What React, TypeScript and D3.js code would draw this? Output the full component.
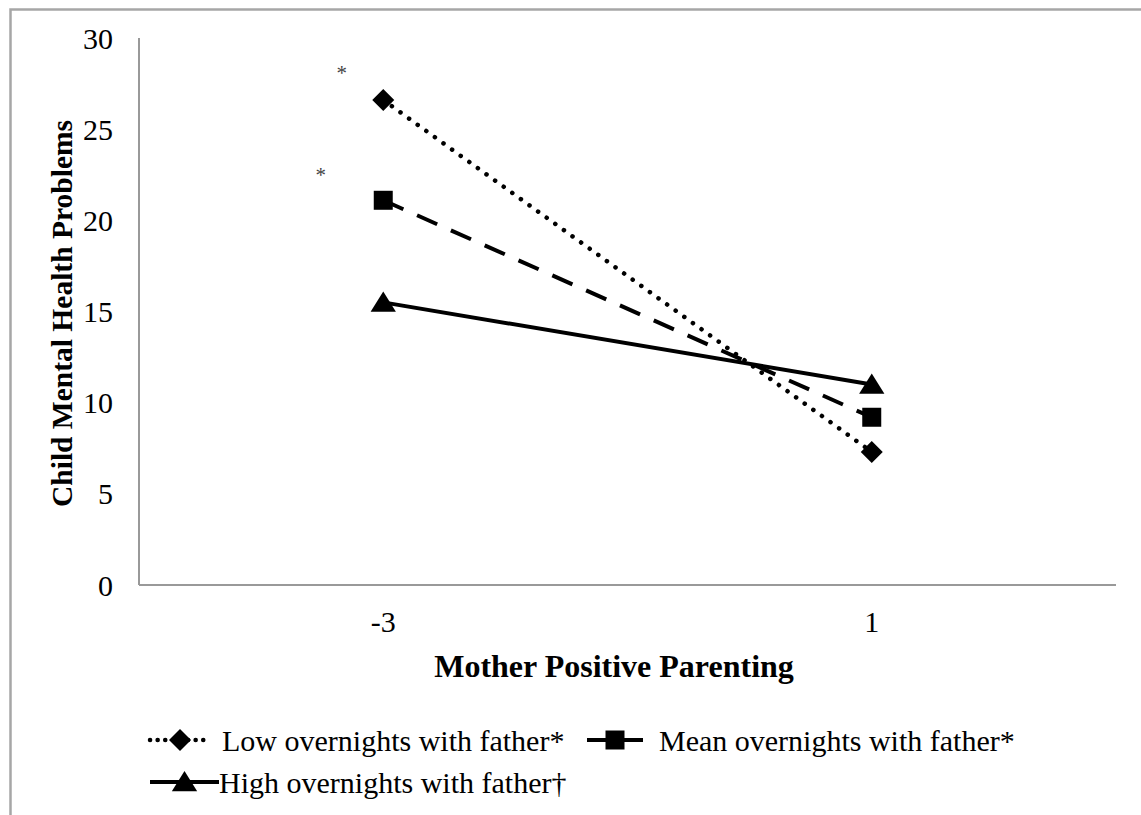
import React, { useRef, useEffect } from 'react';
import * as d3 from 'd3';

const categories = ['-3', '1'];
const yTicks = [0, 5, 10, 15, 20, 25, 30];
const seriesNames = ['Low overnights with father*', 'Mean overnights with father*', 'High overnights with father†'];
const lowValues = [26.6, 7.3];
const meanValues = [21.1, 9.2];
const highValues = [15.5, 11.0];
// significance marks near the -3 point (x offset in category units, y value)
const starMarks = [
  { dx: -0.085, y: 28.4 },
  { dx: -0.128, y: 22.8 },
];

const W = 1141;
const H = 815;
const margin = { left: 139, right: 25, top: 38, bottom: 230 };
const font = '"Liberation Serif", "Times New Roman", serif';

// custom marker paths (centered at 0,0)
const diamondPath = (r: number) => `M0,${-r}L${r},0L0,${r}L${-r},0Z`;
const squarePath = (r: number) => `M${-r},${-r}H${r}V${r}H${-r}Z`;
const trianglePath = (r: number) => `M0,${-r}L${r * 1.15},${r * 0.85}H${-r * 1.15}Z`;

const App = () => {
  const svgRef = useRef<SVGSVGElement>(null);

  useEffect(() => {
    const svg = d3.select(svgRef.current);
    svg.selectAll('*').remove();

    const x = d3.scaleBand().domain(categories).range([margin.left, W - margin.right]);
    const y = d3.scaleLinear().domain([0, 30]).range([H - margin.bottom, margin.top]);
    const cx = (c: string) => (x(c) as number) + x.bandwidth() / 2;

    // outer frame
    svg.append('rect')
      .attr('x', 10.5).attr('y', 9.5)
      .attr('width', W + 20).attr('height', H + 20)
      .attr('fill', 'white')
      .attr('stroke', '#a6a6a6').attr('stroke-width', 2.5);

    // axes lines
    svg.append('line')
      .attr('x1', margin.left).attr('x2', margin.left)
      .attr('y1', y(30)).attr('y2', y(0))
      .attr('stroke', '#999').attr('stroke-width', 2);
    svg.append('line')
      .attr('x1', margin.left).attr('x2', W - margin.right)
      .attr('y1', y(0)).attr('y2', y(0))
      .attr('stroke', '#999').attr('stroke-width', 2);

    svg.append('g').selectAll('text')
      .data(yTicks).enter().append('text')
      .attr('x', 113).attr('y', d => y(d))
      .attr('dy', '0.35em')
      .attr('text-anchor', 'end')
      .attr('font-family', font).attr('font-size', 30)
      .text(d => d);

    svg.append('g').selectAll('text')
      .data(categories).enter().append('text')
      .attr('x', d => cx(d)).attr('y', 632)
      .attr('text-anchor', 'middle')
      .attr('font-family', font).attr('font-size', 30)
      .text(d => d);

    svg.append('text')
      .attr('x', 614).attr('y', 677)
      .attr('text-anchor', 'middle')
      .attr('font-family', font).attr('font-size', 32).attr('font-weight', 'bold')
      .text('Mother Positive Parenting');

    svg.append('text')
      .attr('transform', `translate(72,${(y(0) + y(30)) / 2 + 2}) rotate(-90)`)
      .attr('text-anchor', 'middle')
      .attr('font-family', font).attr('font-size', 29.5).attr('font-weight', 'bold')
      .text('Child Mental Health Problems');

    const styles = [
      { values: lowValues, dash: '0.1 10.5', width: 4.5, cap: 'round', marker: diamondPath(11) },
      { values: meanValues, dash: '22 15', width: 4, cap: 'butt', marker: squarePath(9.5) },
      { values: highValues, dash: null, width: 4, cap: 'butt', marker: trianglePath(11) },
    ];

    const line = d3.line<number>()
      .x((_, i) => cx(categories[i]))
      .y(d => y(d));

    styles.forEach(s => {
      svg.append('path')
        .attr('d', line(s.values))
        .attr('fill', 'none')
        .attr('stroke', 'black')
        .attr('stroke-width', s.width)
        .attr('stroke-linecap', s.cap)
        .attr('stroke-dasharray', s.dash);
    });
    styles.forEach(s => {
      svg.append('g').selectAll('path')
        .data(s.values).enter().append('path')
        .attr('transform', (d, i) => `translate(${cx(categories[i])},${y(d)})`)
        .attr('d', s.marker)
        .attr('fill', 'black');
    });

    svg.append('g').selectAll('text')
      .data(starMarks).enter().append('text')
      .attr('x', d => cx(categories[0]) + d.dx * x.bandwidth())
      .attr('y', d => y(d.y))
      .attr('dy', '0.62em')
      .attr('text-anchor', 'middle')
      .attr('font-family', font).attr('font-size', 21)
      .attr('fill', '#444')
      .text('*');

    // legend
    const legendItems = [
      { x1: 150, x2: 210, tx: 222, ty: 740, s: styles[0], dash: '0.1 7.5', name: seriesNames[0] },
      { x1: 587, x2: 643, tx: 659, ty: 740, s: styles[1], dash: null, name: seriesNames[1] },
      { x1: 150, x2: 219, tx: 219, ty: 782, s: styles[2], dash: null, name: seriesNames[2] },
    ];
    const leg = svg.append('g');
    legendItems.forEach(it => {
      leg.append('line')
        .attr('x1', it.x1).attr('x2', it.x2)
        .attr('y1', it.ty).attr('y2', it.ty)
        .attr('stroke', 'black').attr('stroke-width', it.s.width)
        .attr('stroke-linecap', it.s.cap)
        .attr('stroke-dasharray', it.dash);
      leg.append('path')
        .attr('transform', `translate(${(it.x1 + it.x2) / 2},${it.ty})`)
        .attr('d', it.s.marker)
        .attr('fill', 'black');
      leg.append('text')
        .attr('x', it.tx).attr('y', it.ty)
        .attr('dy', '0.35em')
        .attr('font-family', font).attr('font-size', 30)
        .text(it.name);
    });
  }, []);

  return (
    <div style={{ position: 'absolute', left: 0, top: 0 }}>
      <svg ref={svgRef} width={W} height={H} style={{ display: 'block' }}></svg>
    </div>
  );
};

export default App;
